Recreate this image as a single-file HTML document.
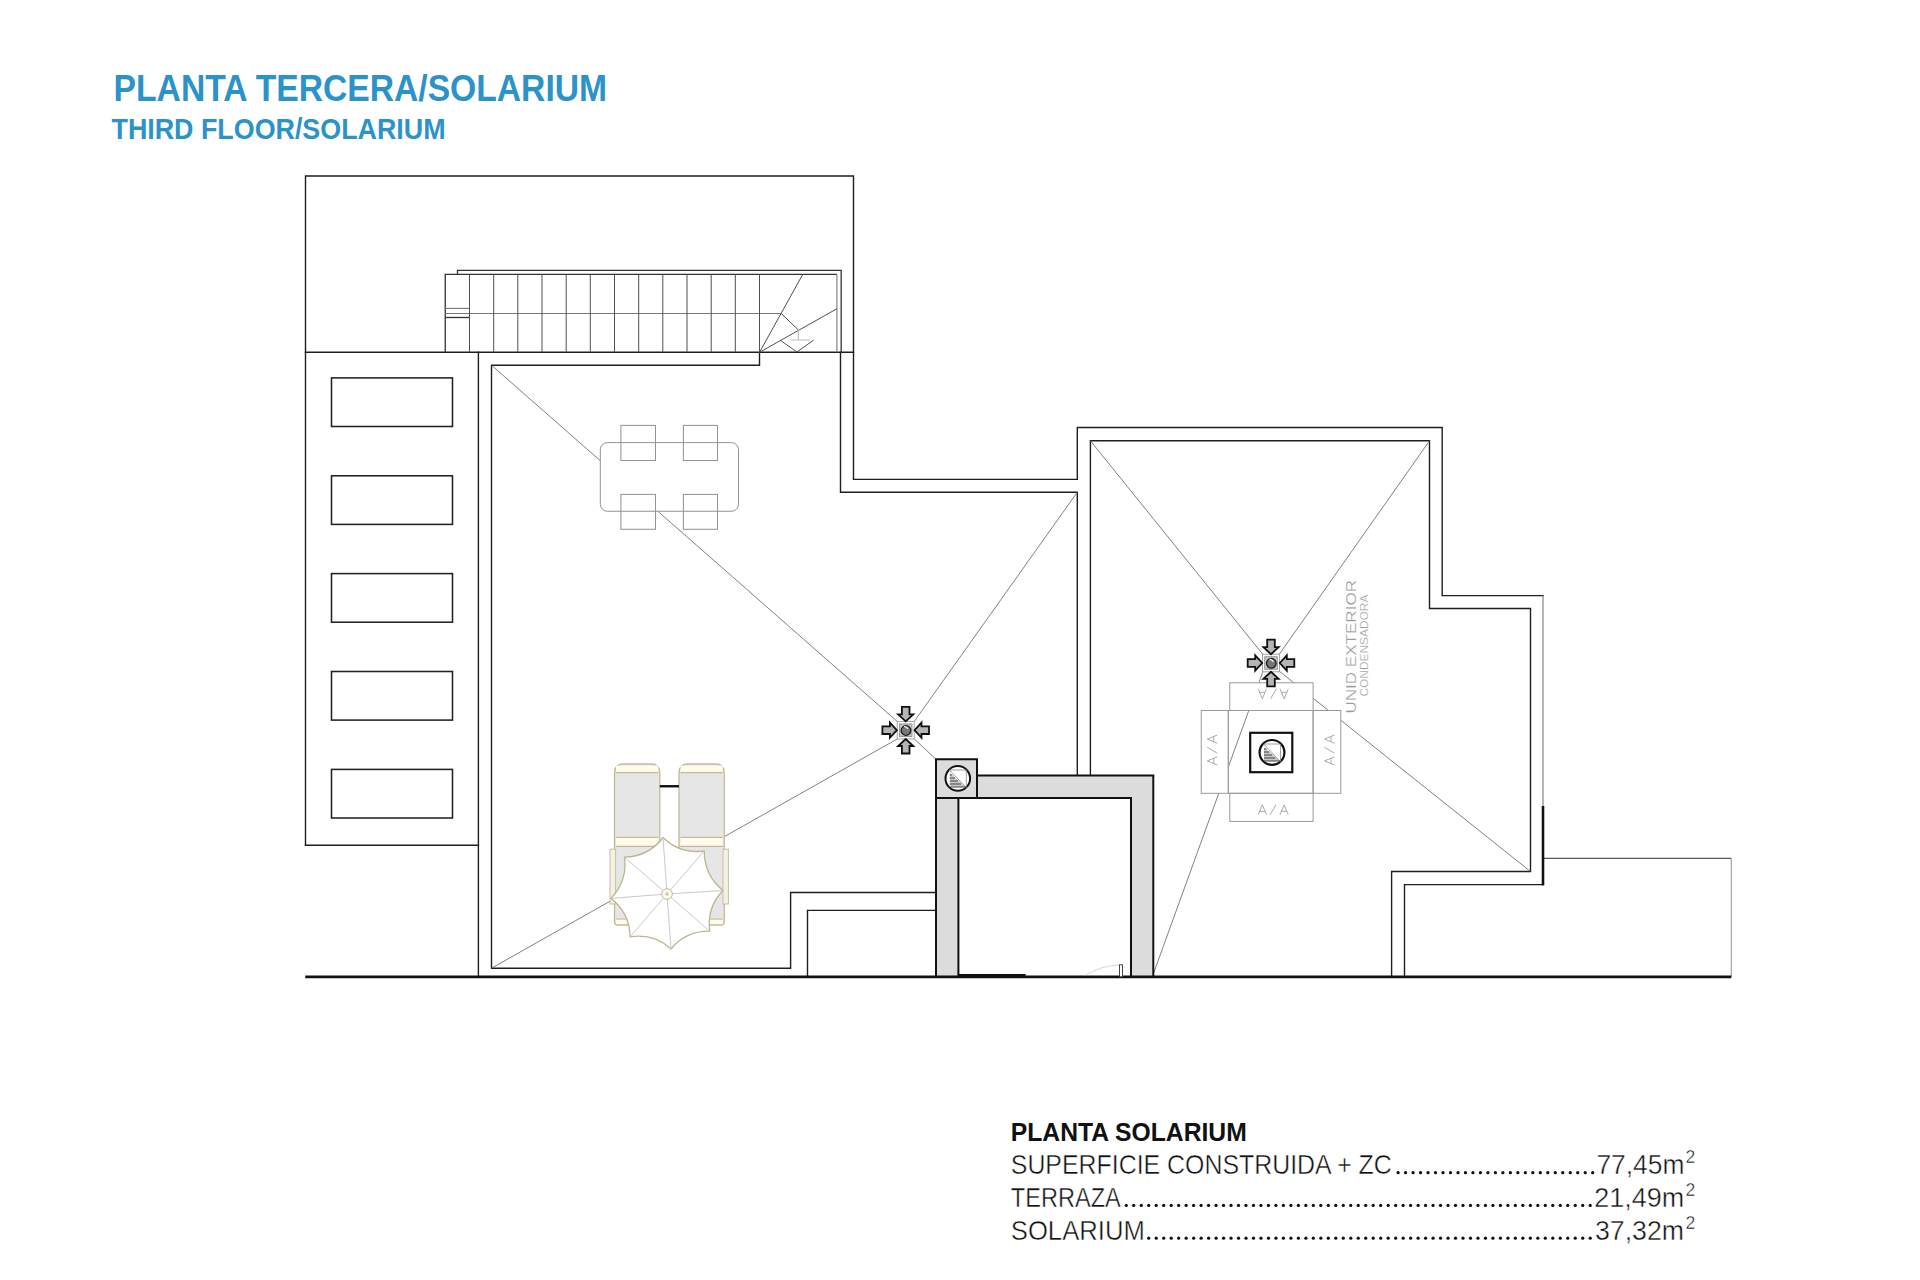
<!DOCTYPE html>
<html><head><meta charset="utf-8">
<style>
html,body{margin:0;padding:0;background:#fff;}
body{width:1920px;height:1280px;position:relative;overflow:hidden;font-family:"Liberation Sans",sans-serif;}
.t{position:absolute;white-space:nowrap;line-height:1;}
svg{position:absolute;left:0;top:0;}
</style></head><body>
<svg width="1920" height="1280" viewBox="0 0 1920 1280">
<!-- TITLE -->
<g id="title" fill="#2b93c8" font-family="Liberation Sans" font-weight="bold">
<text x="113.6" y="100.5" font-size="36.9" textLength="493.5" lengthAdjust="spacingAndGlyphs">PLANTA TERCERA/SOLARIUM</text>
<text x="111.5" y="138.7" font-size="29.1" textLength="334" lengthAdjust="spacingAndGlyphs">THIRD FLOOR/SOLARIUM</text>
</g>

<!-- STRUCTURE -->
<g id="walls" fill="none" stroke="#1e1e1e" stroke-width="1.4" stroke-linecap="square">
<path d="M305.5 845.3 V176 H853.5 V479.4 H1077.3 V427.5 H1442.2 V595.6 H1543"/>
<path d="M1543 884.6 H1404.5 V976.9"/>
<path d="M305.5 352.3 H853.5"/>
<path d="M305.5 845.3 H478.4"/>
<path d="M478.4 352.3 V976.9"/>
<path d="M759.5 352.3 V365.2 H491.5 V968.2 H790.6 V892.5 H935.5"/>
<path d="M807.5 976.9 V910.4 H935.5"/>
<path d="M840.5 352.3 V492.2 H1077.3 V775.8"/>
<path d="M1090.4 775.8 V440.8 H1429.5 V608.5 H1530.5 V871.5 H1391.6 V976.9"/>
</g>
<!-- left column rects -->
<g fill="none" stroke="#222" stroke-width="1.55">
<rect x="331.5" y="377.9" width="121" height="48.6"/>
<rect x="331.5" y="475.8" width="121" height="48.6"/>
<rect x="331.5" y="573.6" width="121" height="48.6"/>
<rect x="331.5" y="671.5" width="121" height="48.6"/>
<rect x="331.5" y="769.4" width="121" height="48.6"/>
</g>
<!-- annex -->
<path d="M1543 858.4 H1731.3" fill="none" stroke="#5a5a5a" stroke-width="1.1"/><path d="M1731.3 858.4 V976.9" fill="none" stroke="#9a9a9a" stroke-width="1.1"/>
<path d="M1543 595.6 V806" fill="none" stroke="#7a7a7a" stroke-width="1.1"/><path d="M1543 806 V885.4" fill="none" stroke="#111" stroke-width="2.6"/>

<!-- STAIRS -->
<g fill="none" stroke="#333" stroke-width="1.3">
<path d="M457.5 274.4 V270.3 H841.2 V352.3"/>
<path d="M445.25 352.3 V274.4 H836.9"/>
<path d="M445.25 317.5 H469.5"/>
</g>
<g fill="none" stroke="#777" stroke-width="1.1">
<path d="M836.9 274.4 V352.3"/>
<path d="M445.25 308.4 H469.5"/>
<path d="M445.25 313.5 H781.25"/>
</g>
<g fill="none" stroke="#505050" stroke-width="1">
<path d="M469.5 274.4V352.3M493.7 274.4V352.3M517.8 274.4V352.3M542 274.4V352.3M566.2 274.4V352.3M590.3 274.4V352.3M614.5 274.4V352.3M638.7 274.4V352.3M662.8 274.4V352.3M687 274.4V352.3M711.2 274.4V352.3M735.3 274.4V352.3M759.5 274.4V352.3"/>
<path d="M759.5 352.3 L802.75 274.4 M759.5 352.3 L836.9 308.75 M781.25 313.5 L798.4 330 M780 340 L796.9 352 L813.75 340"/>
</g>
<path d="M798.4 330 V340 M790 340 H810" fill="none" stroke="#bbb" stroke-width="1"/>

<!-- DIAGONALS -->
<g fill="none" stroke="#6a6a6a" stroke-width="0.85">
<path d="M491.5 365.2 L897.2 721.4"/>
<path d="M1077.3 492.2 L914.3 721.4"/>
<path d="M491.5 968.2 L897.2 739"/>
<path d="M936 759.25 L914.3 739"/>
<path d="M1090.4 440.8 L1263.1 654.7"/>
<path d="M1429.5 440.8 L1279 654.7"/>
<path d="M1530.5 871.5 L1279 671"/>
<path d="M1153.3 974 L1263.1 671"/>
</g>

<!-- GREY WALLS -->
<g fill="#dcdcdc" stroke="#111" stroke-width="2" stroke-linejoin="miter">
<path d="M977 775.6 H1153.3 V976.9 H1131 V797.9 H977 Z"/>
<path d="M936 798 V976.9 H958.4 V798 Z"/>
<rect x="936" y="759.25" width="41" height="38.75"/>
</g>
<circle cx="957.8" cy="778.4" r="12.3" fill="#fff" stroke="#111" stroke-width="2"/>
<use href="#vent" transform="translate(957.8 778.4)"/>

<!-- TABLE -->
<g fill="#fff" stroke="#929292" stroke-width="1">
<rect x="600.3" y="442.6" width="138.2" height="68.65" rx="7" ry="7"/>
</g>
<g fill="none" stroke="#959595" stroke-width="1.05">
<rect x="620.9" y="425.4" width="34.6" height="35.1"/>
<rect x="683.4" y="425.4" width="34.1" height="35.1"/>
<rect x="620.9" y="494.4" width="34.6" height="34.9"/>
<rect x="683.4" y="494.4" width="34.1" height="34.9"/>
</g>

<!-- LOUNGERS -->
<defs>
<g id="lounger">
<path d="M0 158 V9 Q0 0 9 0 H36.3 Q45.3 0 45.3 9 V158 Q45.3 161 42 161 H3 Q0 161 0 158 Z" fill="#e6e6e6" stroke="#c4ba98" stroke-width="1.3"/>
<rect x="1.5" y="1.5" width="42.3" height="7" fill="#fffbea" stroke="none"/>
<rect x="1.5" y="74" width="42.3" height="8" fill="#fffbea" stroke="none"/>
<rect x="1.5" y="155.6" width="42.3" height="4.5" fill="#fffbea" stroke="none"/>
<path d="M1.5 8.6 H43.8 M1.5 73.4 H43.8 M1.5 82.4 H43.8 M1.5 155 H43.8" fill="none" stroke="#c4ba98" stroke-width="1.2"/>
</g>
</defs>
<use href="#lounger" transform="translate(614.5 764)"/>
<use href="#lounger" transform="translate(679 764)"/>
<rect x="610" y="849.2" width="5.6" height="54.8" fill="#f3f0e4" stroke="#c9c0a2" stroke-width="1"/>
<rect x="723" y="849.2" width="5.4" height="54.8" fill="#f3f0e4" stroke="#c9c0a2" stroke-width="1"/>
<path d="M659.8 786.25 H679" stroke="#111" stroke-width="2.4"/>
<!-- UMBRELLA -->
<path d="M663.0 837.5 Q680.3 854.2 704.2 851.0 Q704.3 875.4 723.0 890.5 Q706.5 907.5 709.8 931.2 Q685.7 930.9 671.0 949.0 Q653.8 933.2 630.1 936.9 Q629.8 912.9 611.0 898.4 Q627.6 881.0 624.5 857.2 Q648.4 856.7 663.0 837.5 Z" fill="#fff" stroke="#bfb48f" stroke-width="1.3"/>
<path d="M667 894 L663 837.5 M667 894 L704.2 851 M667 894 L723 890.5 M667 894 L709.8 931.2 M667 894 L671 949 M667 894 L630.1 936.9 M667 894 L611 898.4 M667 894 L624.5 857.2" fill="none" stroke="#c9c9cf" stroke-width="1"/>
<circle cx="667" cy="894" r="5.3" fill="#fffdf0" stroke="#c2b89a" stroke-width="1"/>
<circle cx="667" cy="894" r="1.3" fill="none" stroke="#b0a78a" stroke-width="0.8"/>

<!-- DRAINS -->
<defs>
<g id="arrow"><path d="M-3.8 -23.3 H3.8 V-15.8 H7.6 L0 -8.8 L-7.6 -15.8 H-3.8 Z" fill="#b5b5b5" stroke="#111" stroke-width="1.8" stroke-linejoin="miter"/></g>
<g id="drain">
<rect x="-8.5" y="-8.8" width="17" height="17.6" fill="#fff" stroke="#9a9a9a" stroke-width="0.9"/>
<rect x="-6.3" y="-6.3" width="12.6" height="12.6" fill="#c4c4c4" stroke="#888" stroke-width="0.8"/>
<circle cx="0.3" cy="0.3" r="4.8" fill="#777" stroke="#1a1a1a" stroke-width="1.3"/>
<path d="M-1.5 -3.5 A3 3 0 0 1 2 -1" fill="none" stroke="#eee" stroke-width="1.4"/>
<use href="#arrow"/>
<use href="#arrow" transform="rotate(90)"/>
<use href="#arrow" transform="rotate(180)"/>
<use href="#arrow" transform="rotate(270)"/>
</g>
</defs>

<!-- AA UNIT -->
<g fill="none" stroke="#9a9a9a" stroke-width="1">
<rect x="1229.8" y="682.8" width="83.3" height="27.7" fill="#fff"/>
<rect x="1229.8" y="793.3" width="83.3" height="28.1" fill="#fff"/>
<rect x="1201.25" y="710.5" width="27.05" height="82.8" fill="#fff"/>
<rect x="1313.1" y="710.5" width="27.7" height="82.8" fill="#fff"/>
<rect x="1228.3" y="710.5" width="84.8" height="82.8"/>
</g>
<rect x="1250.2" y="732.8" width="42.1" height="39.4" fill="#fff" stroke="#111" stroke-width="2.2"/>
<circle cx="1272" cy="752.4" r="12.4" fill="#fff" stroke="#111" stroke-width="2.2"/>
<defs><g id="vent">
<path d="M-8.5 -8.4 H8.5 V9.1 M-8.5 -8.4 L8.5 9.1" fill="none" stroke="#8a8a8a" stroke-width="0.8"/>
<path d="M-8 -5.4 V8.6 H8 Z" fill="#c8c8c8" stroke="none"/>
<path d="M-8 -3.4 H-5.5 M-8 -0.4 H-2.8 M-8 2.6 H0.2 M-8 5.6 H3.2 M-8 8.6 H8" fill="none" stroke="#444" stroke-width="1"/>
</g></defs>
<use href="#vent" transform="translate(1272 752.4)"/>
<defs><path id="aa" d="M-15 5 L-10.9 -5 L-6.8 5 M-13.5 1.5 H-8.3 M-3.2 5 L2.7 -5 M6.8 5 L10.9 -5 L15 5 M8.3 1.5 H13.5" fill="none" stroke="#a0a0a0" stroke-width="0.9"/></defs>
<use href="#aa" transform="translate(1273.25 809.8)"/>
<use href="#aa" transform="translate(1273.25 693.8) rotate(180)"/>
<use href="#aa" transform="translate(1212.3 750) rotate(-90)"/>
<use href="#aa" transform="translate(1329.5 750) rotate(-90)"/>
<g fill="#999" stroke="#fff" stroke-width="0.25" font-family="Liberation Sans">
<text transform="translate(1355.8 713.6) rotate(-90)" x="0" y="0" font-size="15" textLength="133.6" lengthAdjust="spacingAndGlyphs">UNID  EXTERIOR</text>
<text transform="translate(1368.1 696.6) rotate(-90)" x="0" y="0" font-size="11.5" textLength="102" lengthAdjust="spacingAndGlyphs">CONDENSADORA</text>
</g>

<use href="#drain" transform="translate(905.7 730.2)"/>
<use href="#drain" transform="translate(1271 663)"/>
<!-- GROUND -->
<path d="M305.25 976.9 H1731.3" stroke="#111" stroke-width="2.6"/>
<path d="M958.6 975.6 H1025.6" stroke="#111" stroke-width="3.4"/>
<rect x="1119.5" y="964.8" width="3" height="12" fill="#fff" stroke="#333" stroke-width="0.9"/>
<path d="M1086 975 Q1100 966 1119 965" fill="none" stroke="#ccc" stroke-width="0.8"/>

<!-- AREA TABLE -->
<g fill="#111" font-family="Liberation Sans">
<text x="1010.8" y="1140.8" font-size="26.6" font-weight="bold" textLength="236" lengthAdjust="spacingAndGlyphs">PLANTA SOLARIUM</text>
<text x="1010.8" y="1174.2" font-size="27.9" stroke="#fff" stroke-width="0.45" textLength="381" lengthAdjust="spacingAndGlyphs">SUPERFICIE CONSTRUIDA + ZC</text>
<text x="1010.8" y="1206.7" font-size="27.9" stroke="#fff" stroke-width="0.45" textLength="110" lengthAdjust="spacingAndGlyphs">TERRAZA</text>
<text x="1010.8" y="1239.7" font-size="27.9" stroke="#fff" stroke-width="0.45" textLength="134" lengthAdjust="spacingAndGlyphs">SOLARIUM</text>
<text x="1596.4" y="1174.2" font-size="27.9" stroke="#fff" stroke-width="0.45" textLength="88" lengthAdjust="spacingAndGlyphs">77,45m</text>
<text x="1594.2" y="1206.7" font-size="27.9" stroke="#fff" stroke-width="0.45" textLength="90" lengthAdjust="spacingAndGlyphs">21,49m</text>
<text x="1595" y="1239.7" font-size="27.9" stroke="#fff" stroke-width="0.45" textLength="89" lengthAdjust="spacingAndGlyphs">37,32m</text>
<text x="1685.5" y="1162.8" font-size="17.5" stroke="#fff" stroke-width="0.4">2</text>
<text x="1685.5" y="1195.8" font-size="17.5" stroke="#fff" stroke-width="0.4">2</text>
<text x="1685.5" y="1228.8" font-size="17.5" stroke="#fff" stroke-width="0.4">2</text>
</g>
<g fill="#111">
<circle cx="1398.10" cy="1172.65" r="1.62"/><circle cx="1405.58" cy="1172.65" r="1.62"/><circle cx="1413.07" cy="1172.65" r="1.62"/><circle cx="1420.55" cy="1172.65" r="1.62"/><circle cx="1428.04" cy="1172.65" r="1.62"/><circle cx="1435.52" cy="1172.65" r="1.62"/><circle cx="1443.01" cy="1172.65" r="1.62"/><circle cx="1450.49" cy="1172.65" r="1.62"/><circle cx="1457.98" cy="1172.65" r="1.62"/><circle cx="1465.46" cy="1172.65" r="1.62"/><circle cx="1472.95" cy="1172.65" r="1.62"/><circle cx="1480.43" cy="1172.65" r="1.62"/><circle cx="1487.92" cy="1172.65" r="1.62"/><circle cx="1495.40" cy="1172.65" r="1.62"/><circle cx="1502.88" cy="1172.65" r="1.62"/><circle cx="1510.37" cy="1172.65" r="1.62"/><circle cx="1517.85" cy="1172.65" r="1.62"/><circle cx="1525.34" cy="1172.65" r="1.62"/><circle cx="1532.82" cy="1172.65" r="1.62"/><circle cx="1540.31" cy="1172.65" r="1.62"/><circle cx="1547.79" cy="1172.65" r="1.62"/><circle cx="1555.28" cy="1172.65" r="1.62"/><circle cx="1562.76" cy="1172.65" r="1.62"/><circle cx="1570.25" cy="1172.65" r="1.62"/><circle cx="1577.73" cy="1172.65" r="1.62"/><circle cx="1585.22" cy="1172.65" r="1.62"/><circle cx="1592.70" cy="1172.65" r="1.62"/><circle cx="1126.25" cy="1205.40" r="1.62"/><circle cx="1133.73" cy="1205.40" r="1.62"/><circle cx="1141.22" cy="1205.40" r="1.62"/><circle cx="1148.70" cy="1205.40" r="1.62"/><circle cx="1156.18" cy="1205.40" r="1.62"/><circle cx="1163.67" cy="1205.40" r="1.62"/><circle cx="1171.15" cy="1205.40" r="1.62"/><circle cx="1178.63" cy="1205.40" r="1.62"/><circle cx="1186.11" cy="1205.40" r="1.62"/><circle cx="1193.60" cy="1205.40" r="1.62"/><circle cx="1201.08" cy="1205.40" r="1.62"/><circle cx="1208.56" cy="1205.40" r="1.62"/><circle cx="1216.05" cy="1205.40" r="1.62"/><circle cx="1223.53" cy="1205.40" r="1.62"/><circle cx="1231.01" cy="1205.40" r="1.62"/><circle cx="1238.50" cy="1205.40" r="1.62"/><circle cx="1245.98" cy="1205.40" r="1.62"/><circle cx="1253.46" cy="1205.40" r="1.62"/><circle cx="1260.95" cy="1205.40" r="1.62"/><circle cx="1268.43" cy="1205.40" r="1.62"/><circle cx="1275.91" cy="1205.40" r="1.62"/><circle cx="1283.39" cy="1205.40" r="1.62"/><circle cx="1290.88" cy="1205.40" r="1.62"/><circle cx="1298.36" cy="1205.40" r="1.62"/><circle cx="1305.84" cy="1205.40" r="1.62"/><circle cx="1313.33" cy="1205.40" r="1.62"/><circle cx="1320.81" cy="1205.40" r="1.62"/><circle cx="1328.29" cy="1205.40" r="1.62"/><circle cx="1335.78" cy="1205.40" r="1.62"/><circle cx="1343.26" cy="1205.40" r="1.62"/><circle cx="1350.74" cy="1205.40" r="1.62"/><circle cx="1358.22" cy="1205.40" r="1.62"/><circle cx="1365.71" cy="1205.40" r="1.62"/><circle cx="1373.19" cy="1205.40" r="1.62"/><circle cx="1380.67" cy="1205.40" r="1.62"/><circle cx="1388.16" cy="1205.40" r="1.62"/><circle cx="1395.64" cy="1205.40" r="1.62"/><circle cx="1403.12" cy="1205.40" r="1.62"/><circle cx="1410.61" cy="1205.40" r="1.62"/><circle cx="1418.09" cy="1205.40" r="1.62"/><circle cx="1425.57" cy="1205.40" r="1.62"/><circle cx="1433.06" cy="1205.40" r="1.62"/><circle cx="1440.54" cy="1205.40" r="1.62"/><circle cx="1448.02" cy="1205.40" r="1.62"/><circle cx="1455.50" cy="1205.40" r="1.62"/><circle cx="1462.99" cy="1205.40" r="1.62"/><circle cx="1470.47" cy="1205.40" r="1.62"/><circle cx="1477.95" cy="1205.40" r="1.62"/><circle cx="1485.44" cy="1205.40" r="1.62"/><circle cx="1492.92" cy="1205.40" r="1.62"/><circle cx="1500.40" cy="1205.40" r="1.62"/><circle cx="1507.89" cy="1205.40" r="1.62"/><circle cx="1515.37" cy="1205.40" r="1.62"/><circle cx="1522.85" cy="1205.40" r="1.62"/><circle cx="1530.34" cy="1205.40" r="1.62"/><circle cx="1537.82" cy="1205.40" r="1.62"/><circle cx="1545.30" cy="1205.40" r="1.62"/><circle cx="1552.78" cy="1205.40" r="1.62"/><circle cx="1560.27" cy="1205.40" r="1.62"/><circle cx="1567.75" cy="1205.40" r="1.62"/><circle cx="1575.23" cy="1205.40" r="1.62"/><circle cx="1582.72" cy="1205.40" r="1.62"/><circle cx="1590.20" cy="1205.40" r="1.62"/><circle cx="1148.75" cy="1238.20" r="1.62"/><circle cx="1156.23" cy="1238.20" r="1.62"/><circle cx="1163.71" cy="1238.20" r="1.62"/><circle cx="1171.20" cy="1238.20" r="1.62"/><circle cx="1178.68" cy="1238.20" r="1.62"/><circle cx="1186.16" cy="1238.20" r="1.62"/><circle cx="1193.64" cy="1238.20" r="1.62"/><circle cx="1201.13" cy="1238.20" r="1.62"/><circle cx="1208.61" cy="1238.20" r="1.62"/><circle cx="1216.09" cy="1238.20" r="1.62"/><circle cx="1223.57" cy="1238.20" r="1.62"/><circle cx="1231.05" cy="1238.20" r="1.62"/><circle cx="1238.54" cy="1238.20" r="1.62"/><circle cx="1246.02" cy="1238.20" r="1.62"/><circle cx="1253.50" cy="1238.20" r="1.62"/><circle cx="1260.98" cy="1238.20" r="1.62"/><circle cx="1268.47" cy="1238.20" r="1.62"/><circle cx="1275.95" cy="1238.20" r="1.62"/><circle cx="1283.43" cy="1238.20" r="1.62"/><circle cx="1290.91" cy="1238.20" r="1.62"/><circle cx="1298.39" cy="1238.20" r="1.62"/><circle cx="1305.88" cy="1238.20" r="1.62"/><circle cx="1313.36" cy="1238.20" r="1.62"/><circle cx="1320.84" cy="1238.20" r="1.62"/><circle cx="1328.32" cy="1238.20" r="1.62"/><circle cx="1335.81" cy="1238.20" r="1.62"/><circle cx="1343.29" cy="1238.20" r="1.62"/><circle cx="1350.77" cy="1238.20" r="1.62"/><circle cx="1358.25" cy="1238.20" r="1.62"/><circle cx="1365.73" cy="1238.20" r="1.62"/><circle cx="1373.22" cy="1238.20" r="1.62"/><circle cx="1380.70" cy="1238.20" r="1.62"/><circle cx="1388.18" cy="1238.20" r="1.62"/><circle cx="1395.66" cy="1238.20" r="1.62"/><circle cx="1403.14" cy="1238.20" r="1.62"/><circle cx="1410.63" cy="1238.20" r="1.62"/><circle cx="1418.11" cy="1238.20" r="1.62"/><circle cx="1425.59" cy="1238.20" r="1.62"/><circle cx="1433.07" cy="1238.20" r="1.62"/><circle cx="1440.56" cy="1238.20" r="1.62"/><circle cx="1448.04" cy="1238.20" r="1.62"/><circle cx="1455.52" cy="1238.20" r="1.62"/><circle cx="1463.00" cy="1238.20" r="1.62"/><circle cx="1470.48" cy="1238.20" r="1.62"/><circle cx="1477.97" cy="1238.20" r="1.62"/><circle cx="1485.45" cy="1238.20" r="1.62"/><circle cx="1492.93" cy="1238.20" r="1.62"/><circle cx="1500.41" cy="1238.20" r="1.62"/><circle cx="1507.90" cy="1238.20" r="1.62"/><circle cx="1515.38" cy="1238.20" r="1.62"/><circle cx="1522.86" cy="1238.20" r="1.62"/><circle cx="1530.34" cy="1238.20" r="1.62"/><circle cx="1537.82" cy="1238.20" r="1.62"/><circle cx="1545.31" cy="1238.20" r="1.62"/><circle cx="1552.79" cy="1238.20" r="1.62"/><circle cx="1560.27" cy="1238.20" r="1.62"/><circle cx="1567.75" cy="1238.20" r="1.62"/><circle cx="1575.24" cy="1238.20" r="1.62"/><circle cx="1582.72" cy="1238.20" r="1.62"/><circle cx="1590.20" cy="1238.20" r="1.62"/>
</g>
</svg>
</body></html>
